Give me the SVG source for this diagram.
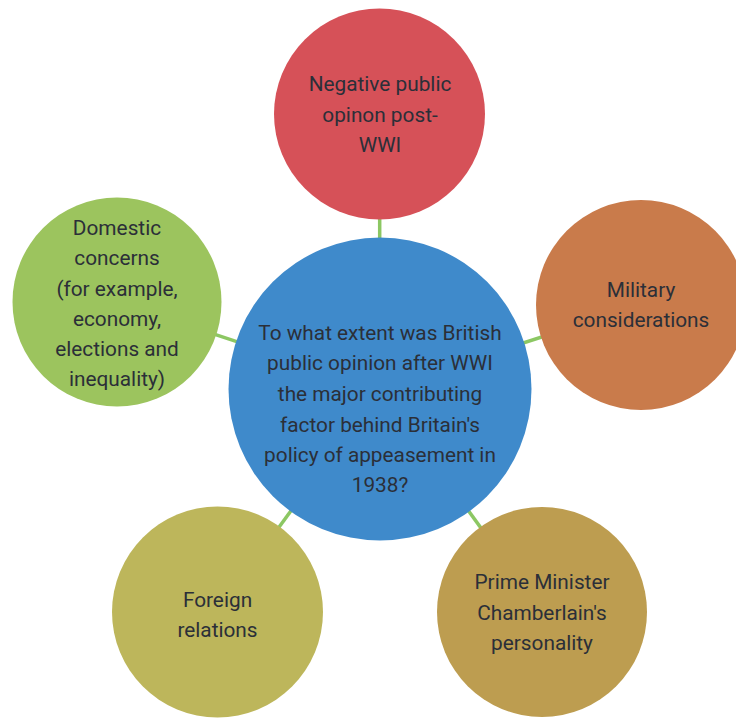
<svg xmlns="http://www.w3.org/2000/svg" width="736" height="718" viewBox="0 0 736 718">
<style>
.t{font-family:Roboto,"Liberation Sans",sans-serif;font-size:20.8px;fill:#2b2f38;text-anchor:middle}
.c{stroke:#8cc763;stroke-width:3.5;fill:none}
</style>
<rect width="736" height="718" fill="#ffffff"/>
<g id="connectors">
<line class="c" x1="380" y1="389" x2="379.5" y2="114"/>
<line class="c" x1="380" y1="389" x2="117" y2="302"/>
<line class="c" x1="380" y1="389" x2="641" y2="305"/>
<line class="c" x1="380" y1="389" x2="217" y2="612"/>
<line class="c" x1="380" y1="389" x2="542" y2="612"/>
</g>
<g id="top">
<circle cx="379.5" cy="114" r="105.5" fill="#d65158"/>
<text class="t" x="380" y="91">Negative public</text>
<text class="t" x="380" y="122">opinon post-</text>
<text class="t" x="380" y="152">WWI</text>
</g>
<g id="left">
<circle cx="117" cy="302" r="104.5" fill="#9cc45e"/>
<text class="t" x="117" y="235">Domestic</text>
<text class="t" x="117" y="265">concerns</text>
<text class="t" x="117" y="296">(for example,</text>
<text class="t" x="117" y="326">economy,</text>
<text class="t" x="117" y="356">elections and</text>
<text class="t" x="117" y="386">inequality)</text>
</g>
<g id="right">
<circle cx="641" cy="305" r="105" fill="#c97b4b"/>
<text class="t" x="641" y="297">Military</text>
<text class="t" x="641" y="327">considerations</text>
</g>
<g id="bottomleft">
<circle cx="217.5" cy="612" r="105.5" fill="#bdb65b"/>
<text class="t" x="217.5" y="607">Foreign</text>
<text class="t" x="217.5" y="637">relations</text>
</g>
<g id="bottomright">
<circle cx="542" cy="612" r="105" fill="#bd9d50"/>
<text class="t" x="542" y="589">Prime Minister</text>
<text class="t" x="542" y="620">Chamberlain's</text>
<text class="t" x="542" y="650">personality</text>
</g>
<g id="center">
<circle cx="380" cy="389" r="151.5" fill="#3f8acb"/>
<text class="t" x="380" y="340">To what extent was British</text>
<text class="t" x="380" y="370">public opinion after WWI</text>
<text class="t" x="380" y="401">the major contributing</text>
<text class="t" x="380" y="432">factor behind Britain's</text>
<text class="t" x="380" y="462">policy of appeasement in</text>
<text class="t" x="380" y="492">1938?</text>
</g>
</svg>
